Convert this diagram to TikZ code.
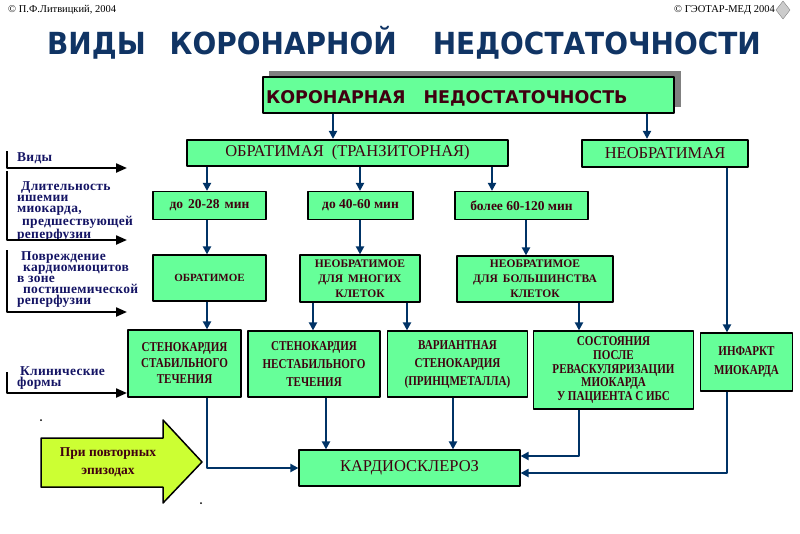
\documentclass[tikz,border=0pt]{standalone}
\usepackage{fontspec}
\setmainfont{Liberation Serif}
\newfontfamily\condfont[FakeStretch=0.82]{Liberation Serif}
\newfontfamily\lblfont[LetterSpace=2]{Liberation Serif}
\newfontfamily\headfont{DejaVu Sans}
\newfontfamily\ttlfont[FakeStretch=0.92]{DejaVu Sans}
\usetikzlibrary{arrows.meta}
\definecolor{boxgreen}{RGB}{102,255,153}
\definecolor{arrblue}{RGB}{0,51,102}
\definecolor{txtred}{RGB}{64,0,16}
\definecolor{lblblue}{RGB}{20,20,100}
\definecolor{ttlblue}{RGB}{16,52,100}
\definecolor{arryel}{RGB}{204,255,51}
\begin{document}
\begin{tikzpicture}[x=1pt,y=-1pt,line join=round,
  box/.style={draw,line width=1.2pt,fill=boxgreen,inner sep=0pt,align=center,text=txtred},
  sz/.style 2 args={minimum width=#1pt,minimum height=#2pt},
  arr/.style={arrblue,line width=2.8pt,-{Triangle[length=8pt,width=8pt]}},
  brk/.style={line width=2.2pt,-{Triangle[length=11pt,width=9pt]}},
  lbl/.style={anchor=north west,inner sep=0pt,align=left,text=lblblue,font=\lblfont\bfseries\fontsize{13.5}{11}\selectfont},
  capf/.style={font=\condfont\bfseries\fontsize{13.5}{#1}\selectfont},
  durf/.style={font=\bfseries\fontsize{13.5}{14}\selectfont},
  dmgf/.style={font=\bfseries\fontsize{11.5}{15}\selectfont},
  cpf/.style={inner sep=0pt,font=\fontsize{10.5}{11}\selectfont}]
\useasboundingbox (0,0) rectangle (800,533);
\node[cpf,anchor=west] (cp1) at (8,10) {© П.Ф.Литвицкий, 2004};
\node[cpf,anchor=east] (cp2) at (775,10) {© ГЭОТАР-МЕД 2004};
\filldraw[fill=gray!40,draw=gray] (783,1) -- (790,10) -- (783,19) -- (776,10) -- cycle;
\node[text=ttlblue,font=\ttlfont\bfseries\fontsize{30.4}{31}\selectfont] (ttl) at (404,43) {ВИДЫ\hspace{24pt}КОРОНАРНОЙ\hspace{36pt}НЕДОСТАТОЧНОСТИ};
\fill[gray] (269,71) rectangle (681,107);
\node[box,sz={411}{36},text width=405pt,text height=17pt,text depth=0pt,align=left,font=\headfont\bfseries\fontsize{17.5}{18}\selectfont] (kn) at (468.5,95) {КОРОНАРНАЯ\hspace{18pt}НЕДОСТАТОЧНОСТЬ};
\node[box,line width=2.2pt,sz={321}{26},font=\fontsize{16.5}{17}\selectfont] (tr) at (347.5,153) {ОБРАТИМАЯ\hspace{8pt}(ТРАНЗИТОРНАЯ)};
\node[box,line width=2.2pt,sz={166}{27},font=\fontsize{16.5}{17}\selectfont] (irr) at (665,153.5) {НЕОБРАТИМАЯ};
\node[box,durf,sz={113}{28}] (d1) at (209.5,205.5) {до\hspace{5pt}20-28\hspace{5pt}мин};
\node[box,durf,sz={105}{28}] (d2) at (360.5,205.5) {до 40-60 мин};
\node[box,durf,sz={133}{28}] (d3) at (521.5,205.5) {более 60-120 мин};
\node[box,font=\bfseries\fontsize{11}{13}\selectfont,sz={113}{46}] (o1) at (209.5,278) {ОБРАТИМОЕ};
\node[box,dmgf,sz={120}{47}] (m2) at (360,278.5) {НЕОБРАТИМОЕ\\ДЛЯ\hspace{5pt}МНОГИХ\\КЛЕТОК};
\node[box,dmgf,sz={156}{46}] (m3) at (535,279) {НЕОБРАТИМОЕ\\ДЛЯ\hspace{5pt}БОЛЬШИНСТВА\\КЛЕТОК};
\node[box,capf=16,sz={113}{67}] (c1) at (184.5,363.5) {СТЕНОКАРДИЯ\\СТАБИЛЬНОГО\\ТЕЧЕНИЯ};
\node[box,capf=18,sz={132}{66}] (c2) at (314,364) {СТЕНОКАРДИЯ\\НЕСТАБИЛЬНОГО\\ТЕЧЕНИЯ};
\node[box,capf=18,sz={140}{66}] (c3) at (457.5,364) {ВАРИАНТНАЯ\\СТЕНОКАРДИЯ\\(ПРИНЦМЕТАЛЛА)};
\node[box,capf=13.75,sz={160}{78}] (c4) at (613.5,370) {СОСТОЯНИЯ\\ПОСЛЕ\\РЕВАСКУЛЯРИЗАЦИИ\\МИОКАРДА\\У ПАЦИЕНТА С ИБС};
\node[box,capf=19,sz={92}{58}] (c5) at (746.5,362) {ИНФАРКТ\\МИОКАРДА};
\node[box,sz={221}{36},font=\fontsize{16.5}{17}\selectfont] (cs) at (409.5,468) {КАРДИОСКЛЕРОЗ};
\node[lbl] (l1) at (17,152.5) {Виды};
\node[lbl] (l2) at (17,181) {\hspace*{4pt}Длительность\\ишемии\\миокарда,\\\hspace*{5pt}предшествующей\\реперфузии};
\node[lbl] (l3) at (17,251) {\hspace*{4pt}Повреждение\\\hspace*{6pt}кардиомиоцитов\\в зоне\\\hspace*{6pt}постишемической\\реперфузии};
\node[lbl] (l4) at (17,366) {\hspace*{3pt}Клинические\\формы};
\coordinate (b1t) at (7,151); \coordinate (b1e) at (127,168);
\coordinate (b2t) at (7,171); \coordinate (b2e) at (127,240);
\coordinate (b3t) at (7,250); \coordinate (b3e) at (127,312);
\coordinate (b4t) at (7,372); \coordinate (b4e) at (127,393);
\draw[brk] (b1t) |- (b1e);
\draw[brk] (b2t) |- (b2e);
\draw[brk] (b3t) |- (b3e);
\draw[brk] (b4t) |- (b4e);
\draw[arr] (kn.south -| 333,0) -- (tr.north -| 333,0);
\draw[arr] (kn.south -| 647,0) -- (irr.north -| 647,0);
\draw[arr] (tr.south -| 207,0) -- (d1.north -| 207,0);
\draw[arr] (tr.south -| 360,0) -- (d2.north -| 360,0);
\draw[arr] (tr.south -| 492,0) -- (d3.north -| 492,0);
\draw[arr] (d1.south -| 207,0) -- (o1.north -| 207,0);
\draw[arr] (d2.south -| 360,0) -- (m2.north -| 360,0);
\draw[arr] (d3.south -| 526,0) -- (m3.north -| 526,0);
\draw[arr] (o1.south -| 207,0) -- (c1.north -| 207,0);
\draw[arr] (m2.south -| 313,0) -- (c2.north -| 313,0);
\draw[arr] (m2.south -| 407,0) -- (c3.north -| 407,0);
\draw[arr] (m3.south -| 579,0) -- (c4.north -| 579,0);
\draw[arr] (irr.south -| 727,0) -- (c5.north -| 727,0);
\draw[arr] (c1.south -| 207,0) |- (cs.west);
\draw[arr] (c2.south -| 326,0) -- (cs.north -| 326,0);
\draw[arr] (c3.south -| 453,0) -- (cs.north -| 453,0);
\draw[arr] (c4.south -| 579,0) |- ([yshift=12pt]cs.east);
\draw[arr] (c5.south -| 727,0) |- ([yshift=-5pt]cs.east);
\draw[line width=1.5pt,fill=arryel] (41,438) -- (163,438) -- (163,420) -- (202,462) -- (163,503) -- (163,487) -- (41,487) -- cycle;
\node[align=center,text=txtred,font=\bfseries\fontsize{13.5}{18}\selectfont] (rep) at (108,462) {При повторных\\эпизодах};
\fill (41,420) circle (1pt);
\fill (201,503) circle (1pt);
\end{tikzpicture}
\end{document}
